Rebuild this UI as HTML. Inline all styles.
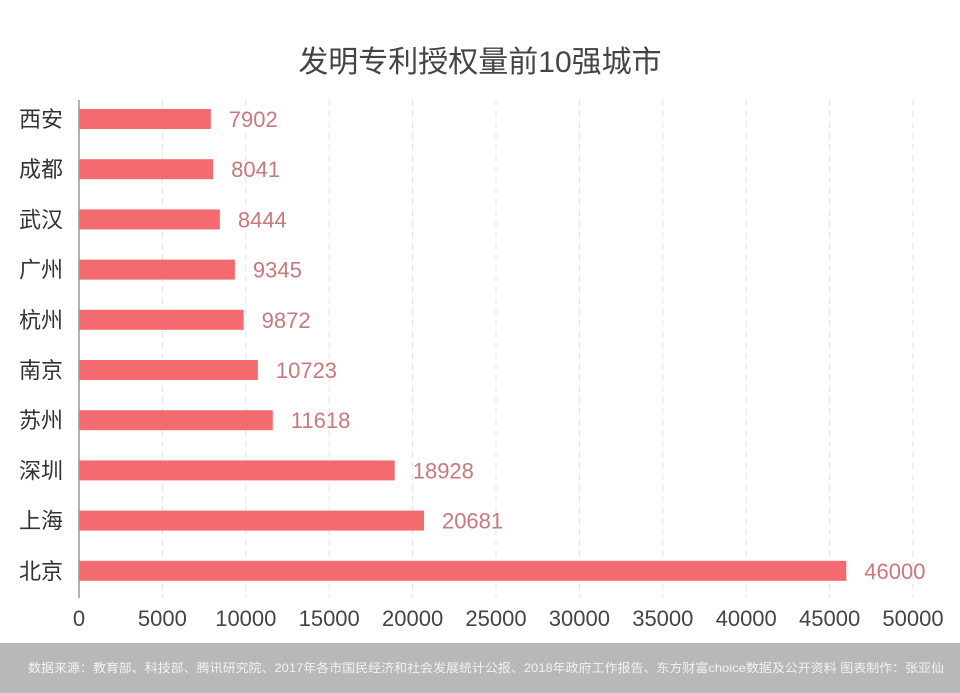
<!DOCTYPE html>
<html><head><meta charset="utf-8"><style>
body{margin:0;width:960px;height:693px;background:#fff;overflow:hidden;font-family:"Liberation Sans","Noto Sans CJK SC",sans-serif}
</style></head><body>
<svg width="960" height="693" style="position:absolute;left:0;top:0">
<text x="480" y="72" text-anchor="middle" font-size="30" fill="#444" font-family="Liberation Sans, Noto Sans CJK SC, sans-serif">发明专利授权量前10强城市</text>
<g id="grid"></g><g id="bars"></g><g id="xt"></g>
<line x1="79" y1="100" x2="79" y2="598" stroke="#999" stroke-width="1.5"/>
<rect x="0" y="643" width="960" height="50" fill="#b8b8b8"/>
<text x="486" y="672" text-anchor="middle" font-size="12" textLength="916" lengthAdjust="spacingAndGlyphs" fill="#f2f2f2" font-family="Liberation Sans, Noto Sans CJK SC, sans-serif">数据来源：教育部、科技部、腾讯研究院、2017年各市国民经济和社会发展统计公报、2018年政府工作报告、东方财富choice数据及公开资料  图表制作：张亚仙</text>
</svg>
<script>
const cities=["西安","成都","武汉","广州","杭州","南京","苏州","深圳","上海","北京"];
const values=[7902,8041,8444,9345,9872,10723,11618,18928,20681,46000];
const ticks=[0,5000,10000,15000,20000,25000,30000,35000,40000,45000,50000];
const NS="http://www.w3.org/2000/svg";
const x=v=>79+v*(834/50000);
const y=i=>109+i*50.2;
function mk(t,a,p,txt){const e=document.createElementNS(NS,t);for(const k in a)e.setAttribute(k,a[k]);if(txt!=null)e.textContent=txt;document.getElementById(p).appendChild(e);return e;}
ticks.forEach((t,i)=>{
 if(t>0){const g=mk("line",{x1:x(t),x2:x(t),y1:100,y2:598,stroke:"#e2e2e2","stroke-dasharray":"6,5"},"grid");
 
 }
 const l=mk("text",{x:x(t),y:626,"text-anchor":"middle","font-size":22,fill:"#444"},"xt",t);
 
 
});
cities.forEach((c,i)=>{
 const b=mk("rect",{x:79,y:y(i),width:x(values[i])-79,height:20,fill:"#f36b6e"},"bars");
 
 
 const n=mk("text",{x:63,y:y(i)+18,"text-anchor":"end","font-size":22,fill:"#333"},"bars",c);
 
 
 const v=mk("text",{x:x(values[i])+18,y:y(i)+18,"font-size":22,fill:"#c9797b"},"bars",values[i]);
 
 
});
</script>
</body></html>
